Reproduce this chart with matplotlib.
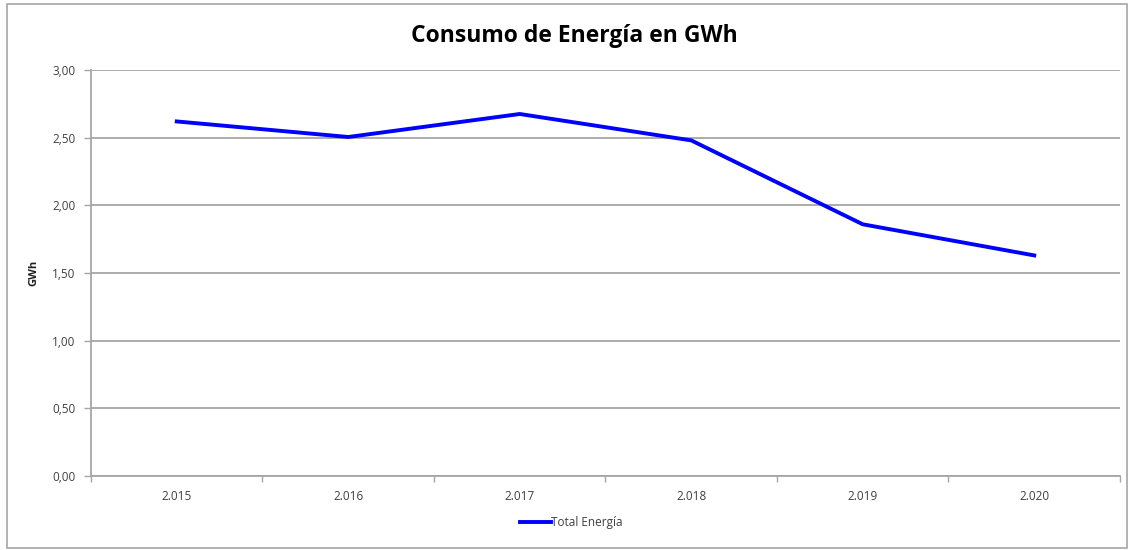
import matplotlib.pyplot as plt
import numpy as np
from matplotlib.ticker import FuncFormatter, FixedLocator

years = ['2.015', '2.016', '2.017', '2.018', '2.019', '2.020']
energia = [2.62, 2.505, 2.675, 2.48, 1.86, 1.63]
yticks = [0.0, 0.5, 1.0, 1.5, 2.0, 2.5, 3.0]

plt.rcParams['font.family'] = ['Open Sans', 'DejaVu Sans']

fig = plt.figure(figsize=(11.29, 5.5), dpi=100)
ax = fig.add_axes([0.0806, 0.1345, 0.9114, 0.7382])

# marco exterior del gráfico
fig.patches.append(plt.Rectangle((0.006, 0.004), 0.992, 0.988, transform=fig.transFigure,
                                 fill=False, edgecolor='#a6a6a6', linewidth=1.2))

x = np.arange(len(years))
ax.plot(x, energia, color='#0000ff', linewidth=2.8, label='Total Energía')

ax.set_xlim(-0.5, len(years) - 0.5)
ax.set_ylim(0, 3)
ax.set_yticks(yticks)
ax.yaxis.set_major_formatter(FuncFormatter(lambda v, p: f'{v:.2f}'.replace('.', ',')))
ax.set_xticks(x)
ax.set_xticklabels(years)
ax.xaxis.set_minor_locator(FixedLocator(np.arange(-0.5, len(years), 1)))

ax.grid(axis='y', color='#a6a6a6', linewidth=1.3)
ax.set_axisbelow(True)
for s in ['top', 'right']:
    ax.spines[s].set_visible(False)
for s in ['left', 'bottom']:
    ax.spines[s].set_color('#a6a6a6')
    ax.spines[s].set_linewidth(1.3)

ax.tick_params(axis='y', colors='#a6a6a6', labelcolor='#404040', labelsize=8.5, length=5, width=1, pad=6)
ax.tick_params(axis='x', which='major', length=0, labelcolor='#404040', labelsize=8.5, pad=10)
ax.tick_params(axis='x', which='minor', length=4, color='#a6a6a6', width=1)

ax.set_ylabel('GWh', fontsize=8, fontweight='bold', color='#202020')
ax.yaxis.set_label_coords(-0.05, 0.5)
fig.text(0.509, 0.935, 'Consumo de Energía en GWh', ha='center', va='center',
         fontsize=16.5, fontweight='bold', color='#000000')

ax.legend(loc='center', bbox_to_anchor=(0.467, -0.115), frameon=False, fontsize=8.5,
          handlelength=2.6, handletextpad=0.0, labelcolor='#404040')

fig.savefig('out.png', dpi=100)
